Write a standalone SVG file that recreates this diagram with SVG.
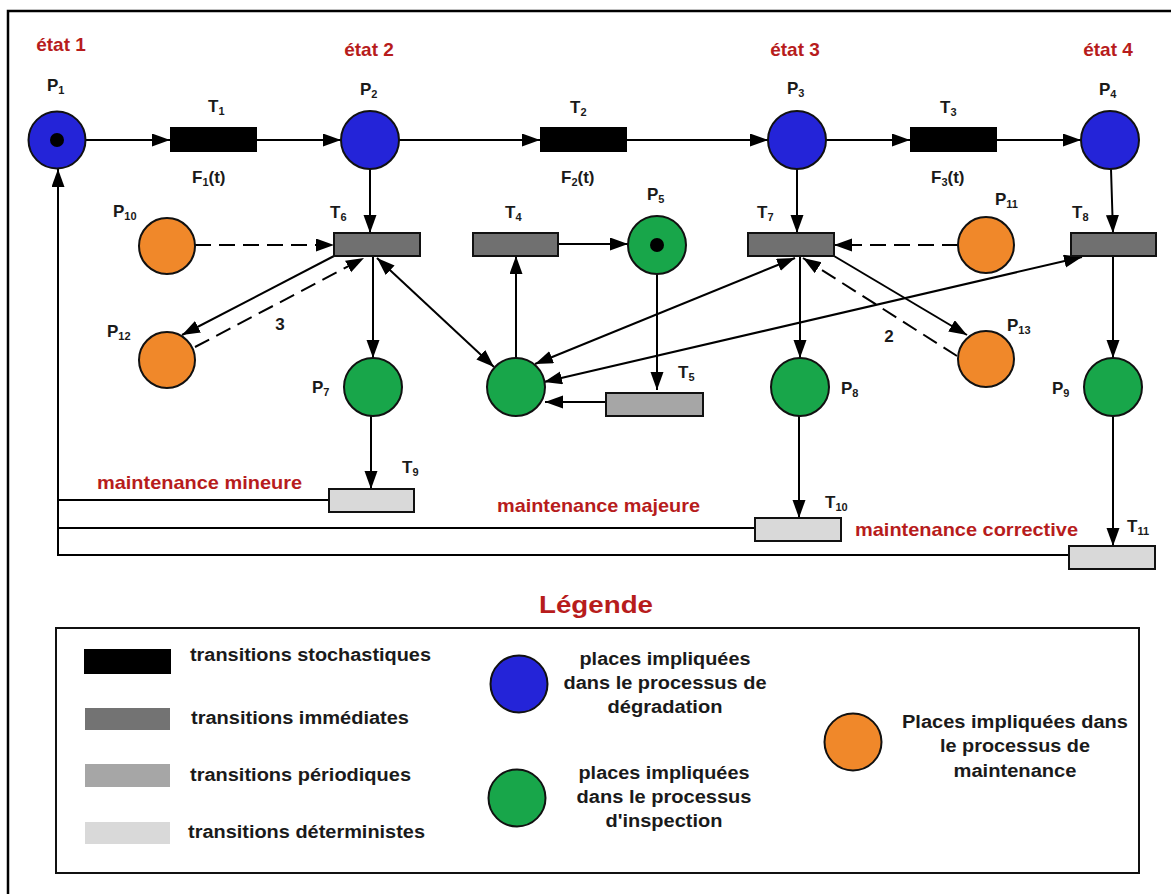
<svg xmlns="http://www.w3.org/2000/svg" width="1171" height="894" viewBox="0 0 1171 894">
<style>
text{font-family:"Liberation Sans",Arial,sans-serif;font-weight:bold;fill:#1a1a1a}
.lbl{font-size:17px}
.sub{font-size:11px}
.red{fill:#b71c1c;font-size:19px}
.leg{font-size:18px}
.mid{text-anchor:middle}
.blue{fill:#2424d8;stroke:#111;stroke-width:2}
.green{fill:#18a64a;stroke:#111;stroke-width:2}
.orange{fill:#f0882a;stroke:#111;stroke-width:2}
.ts{fill:#000;stroke:#000;stroke-width:2}
.ti{fill:#707070;stroke:#111;stroke-width:2}
.tp{fill:#a6a6a6;stroke:#111;stroke-width:2}
.td{fill:#d9d9d9;stroke:#111;stroke-width:2}
.arc{fill:none;stroke:#000;stroke-width:2}
.dash{stroke-dasharray:16 8}
.a{marker-end:url(#ah)}
.b{marker-start:url(#ah);marker-end:url(#ah)}
</style>
<defs>
<marker id="ah" markerUnits="userSpaceOnUse" markerWidth="19" markerHeight="14" refX="18" refY="6.5" orient="auto-start-reverse">
<path d="M0,0 L18,6.5 L0,13 z" fill="#000"/>
</marker>
</defs>
<rect x="8" y="11" width="1170" height="890" fill="none" stroke="#000" stroke-width="2.5"/>

<g id="connectors">
<line class="arc a" x1="86" y1="140" x2="170" y2="140"/>
<line class="arc a" x1="257" y1="140" x2="341" y2="140"/>
<line class="arc a" x1="399" y1="140" x2="540" y2="140"/>
<line class="arc a" x1="627" y1="140" x2="768" y2="140"/>
<line class="arc a" x1="826" y1="140" x2="910" y2="140"/>
<line class="arc a" x1="997" y1="140" x2="1081" y2="140"/>
<line class="arc a" x1="370" y1="169" x2="370" y2="233"/>
<line class="arc a" x1="797" y1="169" x2="797" y2="233"/>
<line class="arc a" x1="1111" y1="169" x2="1113" y2="233"/>
<line class="arc dash a" x1="195" y1="245" x2="334" y2="245"/>
<line class="arc dash a" x1="958" y1="245" x2="834" y2="245"/>
<line class="arc a" x1="334" y1="256" x2="182" y2="335"/>
<line class="arc dash a" x1="195" y1="347" x2="364" y2="258"/>
<line class="arc a" x1="373" y1="256" x2="373" y2="358"/>
<line class="arc b" x1="377" y1="258" x2="494" y2="367"/>
<line class="arc a" x1="516" y1="358" x2="516" y2="256"/>
<line class="arc a" x1="558" y1="244" x2="628" y2="244"/>
<line class="arc a" x1="657" y1="274" x2="657" y2="390"/>
<line class="arc a" x1="606" y1="402" x2="545" y2="402"/>
<line class="arc b" x1="795" y1="258" x2="535" y2="364"/>
<line class="arc b" x1="1082" y1="257" x2="544" y2="382"/>
<line class="arc a" x1="800" y1="256" x2="800" y2="358"/>
<line class="arc a" x1="834" y1="256" x2="967" y2="335"/>
<line class="arc dash a" x1="957" y1="356" x2="803" y2="258"/>
<line class="arc a" x1="1113" y1="256" x2="1113" y2="358"/>
<line class="arc a" x1="371" y1="416" x2="371" y2="489"/>
<line class="arc a" x1="799" y1="416" x2="799" y2="518"/>
<line class="arc a" x1="1113" y1="416" x2="1113" y2="546"/>
<polyline class="arc" points="328,500 58,500"/>
<polyline class="arc" points="755,528 58,528"/>
<polyline class="arc a" points="1069,555 58,555 58,169"/>
</g>

<g id="states">
<text class="red mid" x="61" y="51">état 1</text>
<text class="red mid" x="369" y="56">état 2</text>
<text class="red mid" x="795" y="56">état 3</text>
<text class="red mid" x="1108" y="56">état 4</text>
</g>

<g id="P1"><circle class="blue" cx="57" cy="140" r="28.5"/><circle cx="57" cy="140" r="7" fill="#000"/><text class="lbl" x="47" y="91">P<tspan class="sub" dy="3">1</tspan></text></g>
<g id="P2"><circle class="blue" cx="370" cy="140" r="29"/><text class="lbl" x="360" y="95">P<tspan class="sub" dy="3">2</tspan></text></g>
<g id="P3"><circle class="blue" cx="797" cy="140" r="29"/><text class="lbl" x="787" y="94">P<tspan class="sub" dy="3">3</tspan></text></g>
<g id="P4"><circle class="blue" cx="1110" cy="140" r="29"/><text class="lbl" x="1099" y="95">P<tspan class="sub" dy="3">4</tspan></text></g>

<g id="T1"><rect class="ts" x="171" y="128" width="85" height="23"/><text class="lbl" x="208" y="112">T<tspan class="sub" dy="3">1</tspan></text><text class="lbl" x="192" y="183">F<tspan class="sub" dy="3">1</tspan><tspan dy="-3">(t)</tspan></text></g>
<g id="T2"><rect class="ts" x="541" y="128" width="85" height="23"/><text class="lbl" x="570" y="113">T<tspan class="sub" dy="3">2</tspan></text><text class="lbl" x="561" y="183">F<tspan class="sub" dy="3">2</tspan><tspan dy="-3">(t)</tspan></text></g>
<g id="T3"><rect class="ts" x="911" y="128" width="85" height="23"/><text class="lbl" x="940" y="113">T<tspan class="sub" dy="3">3</tspan></text><text class="lbl" x="931" y="183">F<tspan class="sub" dy="3">3</tspan><tspan dy="-3">(t)</tspan></text></g>

<g id="P10"><circle class="orange" cx="167" cy="246" r="28"/><text class="lbl" x="113" y="217">P<tspan class="sub" dy="3">10</tspan></text></g>
<g id="T6"><rect class="ti" x="334" y="233" width="86" height="23"/><text class="lbl" x="330" y="218">T<tspan class="sub" dy="3">6</tspan></text></g>
<g id="T4"><rect class="ti" x="473" y="233" width="85" height="23"/><text class="lbl" x="505" y="218">T<tspan class="sub" dy="3">4</tspan></text></g>
<g id="P5"><circle class="green" cx="657" cy="245" r="29"/><circle cx="657" cy="245" r="7" fill="#000"/><text class="lbl" x="647" y="200">P<tspan class="sub" dy="3">5</tspan></text></g>
<g id="T7"><rect class="ti" x="748" y="233" width="86" height="23"/><text class="lbl" x="757" y="218">T<tspan class="sub" dy="3">7</tspan></text></g>
<g id="P11"><circle class="orange" cx="986" cy="245" r="28"/><text class="lbl" x="995" y="205">P<tspan class="sub" dy="3">11</tspan></text></g>
<g id="T8"><rect class="ti" x="1071" y="233" width="85" height="23"/><text class="lbl" x="1072" y="218">T<tspan class="sub" dy="3">8</tspan></text></g>

<g id="P12"><circle class="orange" cx="167" cy="360" r="28"/><text class="lbl" x="107" y="337">P<tspan class="sub" dy="3">12</tspan></text></g>
<g id="w3"><text class="lbl mid" x="280" y="330">3</text></g>
<g id="P7"><circle class="green" cx="373" cy="387" r="29"/><text class="lbl" x="312" y="393">P<tspan class="sub" dy="3">7</tspan></text></g>
<g id="P6"><circle class="green" cx="516" cy="387" r="29"/></g>
<g id="T5"><rect class="tp" x="606" y="393" width="97" height="23"/><text class="lbl" x="678" y="378">T<tspan class="sub" dy="3">5</tspan></text></g>
<g id="P8"><circle class="green" cx="800" cy="387" r="29"/><text class="lbl" x="841" y="394">P<tspan class="sub" dy="3">8</tspan></text></g>
<g id="w2"><text class="lbl mid" x="889" y="342">2</text></g>
<g id="P13"><circle class="orange" cx="986" cy="359" r="28"/><text class="lbl" x="1007" y="331">P<tspan class="sub" dy="3">13</tspan></text></g>
<g id="P9"><circle class="green" cx="1113" cy="387" r="29"/><text class="lbl" x="1052" y="394">P<tspan class="sub" dy="3">9</tspan></text></g>

<g id="T9"><rect class="td" x="329" y="489" width="85" height="23"/><text class="lbl" x="402" y="473">T<tspan class="sub" dy="3">9</tspan></text></g>
<g id="T10"><rect class="td" x="755" y="518" width="86" height="23"/><text class="lbl" x="825" y="508">T<tspan class="sub" dy="3">10</tspan></text></g>
<g id="T11"><rect class="td" x="1069" y="546" width="86" height="23"/><text class="lbl" x="1127" y="532">T<tspan class="sub" dy="3">11</tspan></text></g>

<g id="maintenance-labels">
<text class="red" x="97" y="489" textLength="205" lengthAdjust="spacingAndGlyphs">maintenance mineure</text>
<text class="red" x="497" y="512" textLength="203" lengthAdjust="spacingAndGlyphs">maintenance majeure</text>
<text class="red" x="855" y="536" textLength="223" lengthAdjust="spacingAndGlyphs">maintenance corrective</text>
</g>

<g id="legend">
<text class="red" x="539" y="613" style="font-size:24px" textLength="114" lengthAdjust="spacingAndGlyphs">Légende</text>
<rect x="56" y="628" width="1083" height="245" fill="none" stroke="#111" stroke-width="2"/>
<rect x="84" y="649" width="87" height="25" fill="#000"/>
<rect x="85" y="708" width="85" height="22" fill="#737373"/>
<rect x="85" y="764" width="85" height="23" fill="#a6a6a6"/>
<rect x="85" y="822" width="85" height="22" fill="#d9d9d9"/>
<text class="leg" x="190" y="661" textLength="241" lengthAdjust="spacingAndGlyphs">transitions stochastiques</text>
<text class="leg" x="191" y="724" textLength="218" lengthAdjust="spacingAndGlyphs">transitions immédiates</text>
<text class="leg" x="190" y="781" textLength="221" lengthAdjust="spacingAndGlyphs">transitions périodiques</text>
<text class="leg" x="188" y="838" textLength="237" lengthAdjust="spacingAndGlyphs">transitions déterministes</text>
<circle class="blue" cx="519" cy="684" r="28.5"/>
<circle class="green" cx="517" cy="798" r="28.5"/>
<circle class="orange" cx="853" cy="742" r="28.5"/>
<text class="leg mid" x="665" y="665" textLength="171" lengthAdjust="spacingAndGlyphs">places impliquées</text>
<text class="leg mid" x="665" y="689" textLength="203" lengthAdjust="spacingAndGlyphs">dans le processus de</text>
<text class="leg mid" x="665" y="713" textLength="115" lengthAdjust="spacingAndGlyphs">dégradation</text>
<text class="leg mid" x="664" y="779" textLength="171" lengthAdjust="spacingAndGlyphs">places impliquées</text>
<text class="leg mid" x="664" y="803" textLength="175" lengthAdjust="spacingAndGlyphs">dans le processus</text>
<text class="leg mid" x="664" y="827" textLength="117" lengthAdjust="spacingAndGlyphs">d'inspection</text>
<text class="leg mid" x="1015" y="728" textLength="226" lengthAdjust="spacingAndGlyphs">Places impliquées dans</text>
<text class="leg mid" x="1015" y="752" textLength="150" lengthAdjust="spacingAndGlyphs">le processus de</text>
<text class="leg mid" x="1015" y="777" textLength="123" lengthAdjust="spacingAndGlyphs">maintenance</text>
</g>
</svg>
